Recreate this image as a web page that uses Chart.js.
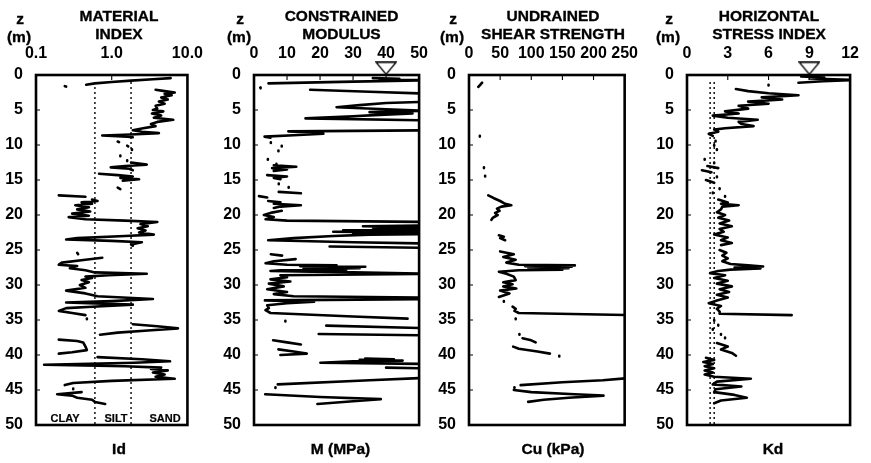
<!DOCTYPE html>
<html>
<head>
<meta charset="utf-8">
<script src="https://cdn.jsdelivr.net/npm/chart.js@4.4.1/dist/chart.umd.min.js"></script>
<style>
  html, body { margin: 0; padding: 0; background: #fff; }
  #wrap { position: relative; width: 871px; height: 463px; overflow: hidden; background: #fff;
          font-family: "Liberation Sans", Arial, Helvetica, sans-serif; font-weight: bold; color: #000; }
  canvas { position: absolute; top: 0; }
  .t { position: absolute; transform: translate(-50%, -50%); white-space: nowrap; line-height: 1;
       -webkit-text-stroke: 0.35px #000; }
  .title { font-size: 15.5px; }
  .axl { font-size: 15.5px; }
  .zone { font-size: 11px; -webkit-text-stroke: 0.2px #000; }
</style>
</head>
<body>
<div id="wrap">
  <canvas id="c1" width="215" height="463" style="left:0px"></canvas>
  <canvas id="c2" width="222" height="463" style="left:218px"></canvas>
  <canvas id="c3" width="217" height="463" style="left:433px"></canvas>
  <canvas id="c4" width="220" height="463" style="left:651px"></canvas>
</div>
<script>
// ---------------- DATA (depth z in m, measured value) ; null = break in the trace
const depthTicks = [0, 5, 10, 15, 20, 25, 30, 35, 40, 45, 50];
const idTicks = [0.1, 1.0, 10.0];
const mTicks = [0, 10, 20, 30, 40, 50];
const cuTicks = [0, 50, 100, 150, 200, 250];
const kdTicks = [0, 3, 6, 9, 12];

const panelTitles = [["MATERIAL", "INDEX"], ["CONSTRAINED", "MODULUS"], ["UNDRAINED", "SHEAR STRENGTH"], ["HORIZONTAL", "STRESS INDEX"]];
const axisLabels = ["Id", "M (MPa)", "Cu (kPa)", "Kd"];
const soilZones = ["CLAY", "SILT", "SAND"];
const idBoundaries = [0.6, 1.8];
const kdBoundaries = [1.7, 2.0];
const waterTableM = 40;
const waterTableKd = 9;

const idReadings = [
  [0.45,6.0],[0.6,3.5],[0.8,1.8],[1.0,1.0],[1.2,0.6],[1.4,0.46], null,
  [1.6,0.24],[1.65,0.25], null,
  [2.1,3.8],[2.3,5.0],[2.5,6.8],[2.7,5.0],[2.9,6.2],[3.2,4.5],[3.5,5.5],[3.8,4.2],[4.1,5.0],[4.4,3.8],[4.8,4.0],[5.0,3.5],[5.2,4.8],[5.5,3.4],[5.8,4.5],[6.1,3.6],[6.4,6.5],[6.7,4.0],[7.0,3.3],[7.3,3.8],[7.6,2.6],[7.9,1.9],[8.1,2.5],[8.3,4.2],[8.5,1.8],[8.65,0.75],[8.8,1.6],[8.9,1.9], null,
  [9.5,1.2],[9.6,1.25], null, [10.1,1.6],[10.2,1.65], null, [10.6,1.85],[10.7,1.85], null, [11.5,1.3],[11.6,1.3], null, [12.2,1.6],[12.3,1.6], null,
  [12.5,1.8],[12.8,2.9],[13.0,1.5],[13.2,0.97],[13.4,1.7],[13.6,1.9], null,
  [14.1,0.68],[14.3,1.2],[14.5,1.9],[14.7,1.3],[14.9,2.3],[15.1,1.4], null,
  [16.1,1.2],[16.3,1.3], null,
  [17.2,0.2],[17.4,0.45], null,
  [17.8,0.55],[18.0,0.65],[18.2,0.4],[18.4,0.55],[18.6,0.33],[18.9,0.5],[19.2,0.35],[19.5,0.52],[19.8,0.3],[20.1,0.5],[20.3,0.27],[20.6,0.45],[20.8,1.5],[21.0,4.0],[21.3,2.4],[21.6,3.0],[21.9,2.2],[22.2,2.8],[22.5,2.3],[22.8,3.6],[23.0,1.5],[23.3,0.35],[23.5,0.25],[23.7,1.0],[23.9,2.5],[24.2,1.8],[24.4,1.9], null,
  [25.4,0.35],[25.6,0.36], null,
  [26.1,0.75],[26.4,0.45],[26.8,0.22],[27.1,0.2],[27.3,0.35],[27.6,0.28],[27.9,0.45],[28.2,0.6],[28.4,2.9],[28.6,0.9],[28.8,0.45],[29.0,0.55],[29.3,0.4],[29.6,0.5],[30.0,0.38],[30.4,0.45],[30.8,0.25],[31.2,0.45],[31.6,0.65],[32.0,3.5],[32.3,1.0],[32.5,0.25],[32.8,1.9],[33.1,0.55],[33.3,0.25],[33.7,0.2],[34.0,0.3],[34.3,0.45], null,
  [34.8,0.47],[34.9,0.47], null,
  [35.6,1.9],[35.9,4.0],[36.2,7.5],[36.5,3.0],[36.8,1.2],[37.1,0.7], null,
  [37.8,0.2],[38.0,0.35],[38.2,0.42],[38.8,0.45],[39.3,0.47],[39.6,0.3],[39.8,0.2], null,
  [40.3,0.65],[40.6,2.5],[40.9,5.9],[41.1,2.0],[41.4,0.128],[41.6,1.5],[41.8,4.5],[42.0,3.3],[42.2,5.5],[42.5,3.5],[42.8,5.0],[43.1,3.8],[43.4,6.8],[43.7,1.0],[44.0,0.31],[44.3,0.24], null,
  [44.8,0.31],[44.9,0.31], null,
  [45.3,0.4],[45.6,0.19],[45.8,0.3],[46.1,0.35],[46.4,0.55],[46.7,0.6],[47.0,0.82]
];

const mReadings = [
  [0.45,36],[0.55,44],[0.65,38],[0.75,55],[0.95,30],[1.2,4.4], null,
  [1.8,1.9],[1.9,2.0], null,
  [2.1,17],[2.4,35],[2.7,55], null,
  [3.8,55],[4.0,40],[4.3,32],[4.6,25],[4.9,40],[5.1,52],[5.3,35],[5.5,48],[5.7,38],[5.9,30],[6.2,15.6],[6.5,55], null,
  [7.9,55],[8.05,10.4],[8.2,18],[8.4,21],[8.6,12],[8.8,3.2],[8.95,5], null,
  [9.6,5.1],[9.7,5.1], null, [10.1,8.4],[10.2,8.4], null, [10.8,7.4],[10.9,7.4], null, [12.0,4.2],[12.1,4.2], null, [12.7,6.8],[12.8,6.8], null,
  [12.9,6],[13.1,12.8],[13.3,5.5],[13.5,10],[13.7,6], null,
  [14.3,4],[14.5,10],[14.7,6],[14.9,8], null,
  [15.5,7.5],[15.6,7.5], null, [16.0,10.5],[16.1,10.5], null,
  [16.7,7.5],[16.9,14.2], null,
  [17.3,1.5],[17.5,4], null,
  [18.0,4.3],[18.2,8],[18.4,6],[18.6,14.2],[18.8,8],[19.0,6], null,
  [19.4,8.4],[19.7,5],[20.0,3],[20.3,6],[20.6,3.5],[20.8,10],[21.0,55], null,
  [21.5,55],[21.6,33],[21.7,50],[21.8,36],[21.9,55],[22.0,40],[22.1,52],[22.2,27],[22.3,50],[22.4,24],[22.5,45],[22.6,30],[22.7,55],[22.8,35],[23.0,24],[23.3,12],[23.6,4.3],[23.9,30],[24.1,55], null,
  [24.5,22.9],[24.7,55], null,
  [25.6,5.1],[25.8,8.5], null,
  [26.3,12.6],[26.6,6],[26.9,3.5],[27.1,10],[27.2,25],[27.3,14],[27.4,33.7],[27.5,18],[27.6,32],[27.7,15],[27.8,28],[27.9,8],[28.0,5],[28.2,30],[28.4,55],[28.6,8],[28.9,10],[29.2,5],[29.5,11],[29.8,4.5],[30.2,9],[30.6,4],[31.0,10],[31.3,6],[31.6,12],[31.8,55],[32.0,55],[32.2,3.3],[32.4,18.2],[32.6,10],[32.9,4],[33.3,4.5],[33.6,3.5],[34.0,5],[34.5,30],[34.8,46.5], null,
  [35.1,9.5],[35.2,9.5], null,
  [35.8,21.9],[36.2,55], null,
  [37.0,19.6],[37.2,55], null,
  [37.9,5.8],[38.2,10],[38.5,14.2], null,
  [39.2,7.4],[39.5,12],[39.8,16],[40.0,8], null,
  [40.5,33.7],[40.6,42.4],[40.7,32],[40.8,45],[40.9,30],[41.1,20.1],[41.3,55], null,
  [41.8,40],[41.95,55], null,
  [43.2,55],[43.6,35],[44.2,7.2], null,
  [44.6,6.5],[44.7,6.5], null,
  [45.6,3.4],[46.0,20],[46.3,38.4],[46.6,30],[47.0,19.2]
];

const cuReadings = [
  [1.1,21],[1.4,18],[1.7,15], null,
  [8.7,17.4],[8.8,17.4], null,
  [13.2,24],[13.3,24], null, [14.4,25.9],[14.5,25.9], null,
  [17.2,31],[17.6,40],[18.0,50],[18.4,58],[18.6,68],[18.8,52],[19.1,45],[19.4,49],[19.7,42],[20.0,46],[20.4,38],[20.7,36], null,
  [22.9,48],[23.1,56],[23.3,50],[23.6,58], null,
  [25.2,50],[25.6,72],[26.0,55],[26.4,75],[26.8,60],[27.1,80],[27.2,170],[27.3,90],[27.4,165],[27.5,95],[27.6,160],[27.7,110],[27.8,150],[27.9,80],[28.1,48],[28.4,60],[28.8,72],[29.3,75],[29.6,55],[29.9,70],[30.2,55],[30.5,76],[30.8,50],[31.2,65],[31.7,48], null,
  [32.3,56],[32.4,56], null,
  [33.1,70],[33.4,75],[33.7,73],[34.0,80],[34.3,255], null,
  [34.8,75],[34.9,75], null,
  [37.0,81],[37.1,81], null,
  [37.6,86],[37.9,100],[38.2,107], null,
  [38.8,71],[39.1,80],[39.5,110],[39.8,130], null,
  [40.1,145],[40.2,145], null,
  [43.3,255],[43.6,215],[43.9,150],[44.3,83], null,
  [44.6,73],[44.7,73], null,
  [45.0,72],[45.3,100],[45.6,170],[45.8,216],[46.1,160],[46.4,120],[46.7,95]
];

const kdReadings = [
  [0.2,8.4],[0.35,10.1],[0.5,9.0],[0.7,12.5],[0.9,10],[1.1,8.2], null,
  [1.4,6.0],[1.5,6.0], null,
  [2.0,3.6],[2.3,4.5],[2.6,6.0],[2.9,8.2],[3.2,5.5],[3.5,7.0],[3.8,4.5],[4.1,6.0],[4.4,3.8],[4.8,4.5],[5.2,2.8],[5.5,3.8],[5.8,1.9],[6.1,3.0],[6.4,5.2],[6.7,3.8],[7.0,4.0],[7.3,4.9],[7.6,2.8],[7.8,2.0],[8.1,2.3],[8.4,1.6],[8.7,1.9], null,
  [9.4,2.1],[9.5,2.1], null, [10.0,2.0],[10.1,2.0], null, [10.6,2.2],[10.7,2.2], null, [12.0,1.3],[12.1,1.3], null,
  [12.5,2.0],[12.6,2.0], null, [13.0,1.5],[13.3,2.3], null, [13.6,1.1],[13.9,1.8], null, [14.5,2.2],[14.6,2.2], null,
  [15.0,1.4],[15.4,2.0], null, [16.2,2.4],[16.3,2.4], null, [16.8,1.9],[16.9,1.9], null, [17.3,2.8],[17.4,2.8], null,
  [17.8,2.3],[18.2,3.0],[18.4,2.5],[18.6,3.8],[18.8,2.6],[19.2,2.5],[19.6,2.2],[20.0,2.8],[20.4,2.3],[20.8,3.1],[21.2,2.4],[21.6,3.3],[22.0,2.4],[22.4,2.7],[22.8,2.0],[23.2,3.0],[23.6,2.5],[24.0,3.3],[24.3,2.5], null,
  [25.0,2.4],[25.4,2.9],[25.8,2.6],[26.2,3.0],[26.6,2.6],[27.0,3.2],[27.2,4.5],[27.35,5.6],[27.5,3.5],[27.65,5.4],[27.8,3.2],[28.0,2.3],[28.3,1.7],[28.6,2.8],[29.0,2.0],[29.4,3.0],[29.8,2.2],[30.2,3.3],[30.6,2.4],[31.0,3.1],[31.4,2.2],[31.8,3.0],[32.2,2.2],[32.6,1.6],[33.0,2.5],[33.4,2.2],[33.8,2.4],[34.1,2.4],[34.3,7.7], null,
  [35.0,2.0],[35.1,2.0], null, [35.7,2.3],[35.8,2.3], null, [36.3,1.9],[36.4,1.9], null, [37.0,2.5],[37.1,2.5], null, [37.5,2.8],[37.6,2.8], null,
  [38.3,2.2],[38.8,3.0],[39.2,2.5],[39.7,3.3],[40.1,3.6], null,
  [40.4,1.4],[40.7,2.0],[41.0,1.2],[41.3,1.9],[41.6,1.3],[41.9,2.0],[42.2,1.3],[42.5,1.9],[42.8,1.3],[43.1,2.0],[43.4,4.7],[43.8,2.2],[44.2,1.9],[44.5,4.0],[44.9,2.1],[45.3,2.0],[45.7,3.5],[46.1,4.4],[46.5,2.5],[46.9,2.0]
];

// ---------------- helpers
const FONT = '"Liberation Sans", Arial, Helvetica, sans-serif';
function toPoints(readings) {
  return readings.map(r => r ? { x: r[1], y: r[0] } : { x: null, y: null });
}
function traceDs(readings) {
  return { data: toPoints(readings), showLine: true, borderColor: '#000', borderWidth: 2.6,
           pointRadius: 0, borderCapStyle: 'round', borderJoinStyle: 'round', tension: 0 };
}
function dottedDs(v) {
  return { data: [{ x: v, y: 1.0 }, { x: v, y: 50 }], showLine: true, borderColor: '#000',
           borderWidth: 1.4, borderDash: [2, 3], pointRadius: 0 };
}
const tri = document.createElement('canvas');
tri.width = 22; tri.height = 14;
(function () {
  const g = tri.getContext('2d');
  g.fillStyle = '#fff'; g.strokeStyle = '#000'; g.lineWidth = 1.3;
  g.beginPath(); g.moveTo(1, 1); g.lineTo(21, 1); g.lineTo(11, 13); g.closePath();
  g.fill(); g.stroke();
})();
function waterDs(v) {
  return { data: [{ x: v, y: -0.95 }], showLine: false, pointStyle: tri, pointRadius: 8, clip: false };
}

const framePlugin = {
  id: 'frame',
  afterDatasetsDraw(chart) {
    const { ctx, chartArea: a } = chart;
    const xs = chart.scales.x, ys = chart.scales.y;
    ctx.save();
    ctx.strokeStyle = '#000';
    ctx.lineWidth = 1.1;
    ctx.beginPath();
    xs.ticks.forEach(t => {
      const p = xs.getPixelForValue(t.value);
      if (p > a.left + 3 && p < a.right - 3) { ctx.moveTo(p, a.top); ctx.lineTo(p, a.top + 5); }
    });
    ys.ticks.forEach(t => {
      const p = ys.getPixelForValue(t.value);
      if (p > a.top + 3 && p < a.bottom - 3) { ctx.moveTo(a.left, p); ctx.lineTo(a.left + 4, p); }
    });
    ctx.stroke();
    ctx.lineWidth = 2.6;
    ctx.strokeRect(a.left, a.top, a.right - a.left, a.bottom - a.top);
    ctx.restore();
  }
};

function makePanel(id, datasets, xCfg, rightPad) {
  const xScale = Object.assign({
    position: 'top',
    afterFit: s => { s.height = 75; },
    grid: { display: false, drawTicks: false },
    border: { display: false },
    ticks: { color: '#000', padding: 12, maxRotation: 0, autoSkip: false,
             font: { family: FONT, size: 16, weight: 'bold' } }
  }, xCfg);
  new Chart(document.getElementById(id), {
    type: 'scatter',
    data: { datasets },
    options: {
      responsive: false, animation: false, events: [],
      layout: { autoPadding: false, padding: { left: 0, right: rightPad, top: 0, bottom: 38 } },
      plugins: { legend: { display: false }, tooltip: { enabled: false }, title: { display: false } },
      scales: {
        x: xScale,
        y: {
          reverse: true, min: 0, max: 50,
          afterFit: s => { s.width = 36; },
          afterBuildTicks: s => { s.ticks = depthTicks.map(v => ({ value: v })); },
          grid: { display: false, drawTicks: false },
          border: { display: false },
          ticks: { color: '#000', padding: 13, autoSkip: false,
                   font: { family: FONT, size: 16, weight: 'bold' } }
        }
      }
    },
    plugins: [framePlugin]
  });
}

makePanel('c1', [traceDs(idReadings), dottedDs(idBoundaries[0]), dottedDs(idBoundaries[1])], {
  type: 'logarithmic', min: 0.1, max: 10,
  afterBuildTicks: s => { s.ticks = idTicks.map(v => ({ value: v })); },
  ticks: { color: '#000', padding: 12, maxRotation: 0, autoSkip: false,
           font: { family: FONT, size: 16, weight: 'bold' }, callback: v => Number(v).toFixed(1) }
}, 13);

makePanel('c2', [traceDs(mReadings), waterDs(waterTableM)], {
  type: 'linear', min: 0, max: 50,
  afterBuildTicks: s => { s.ticks = mTicks.map(v => ({ value: v })); }
}, 13);

makePanel('c3', [traceDs(cuReadings)], {
  type: 'linear', min: 0, max: 250,
  afterBuildTicks: s => { s.ticks = cuTicks.map(v => ({ value: v })); }
}, 13);

makePanel('c4', [traceDs(kdReadings), dottedDs(kdBoundaries[0]), dottedDs(kdBoundaries[1]), waterDs(waterTableKd)], {
  type: 'linear', min: 0, max: 12,
  afterBuildTicks: s => { s.ticks = kdTicks.map(v => ({ value: v })); }
}, 12);

// ---------------- text labels
const wrap = document.getElementById('wrap');
function addText(txt, x, y, cls) {
  const d = document.createElement('div');
  d.className = 't ' + cls;
  d.style.left = x + 'px'; d.style.top = y + 'px';
  d.textContent = txt;
  wrap.appendChild(d);
}
const frameLeft = [36, 254, 469, 687];
const frameRight = [202, 427, 637, 859];
const titleShift = [0, 1, 0, -4];
const zShift = [-16, -14, -16, -18];
for (let i = 0; i < 4; i++) {
  const cx = (frameLeft[i] + frameRight[i]) / 2;
  addText(panelTitles[i][0], cx + titleShift[i], 16, 'title');
  addText(panelTitles[i][1], cx + titleShift[i], 34, 'title');
  addText('z', frameLeft[i] + zShift[i], 19, 'title');
  addText('(m)', frameLeft[i] + zShift[i] - 1, 37, 'title');
  addText(axisLabels[i], cx, 449, 'axl');
}
addText(soilZones[0], 65, 418, 'zone');
addText(soilZones[1], 116, 418, 'zone');
addText(soilZones[2], 165, 418, 'zone');
</script>
</body>
</html>
